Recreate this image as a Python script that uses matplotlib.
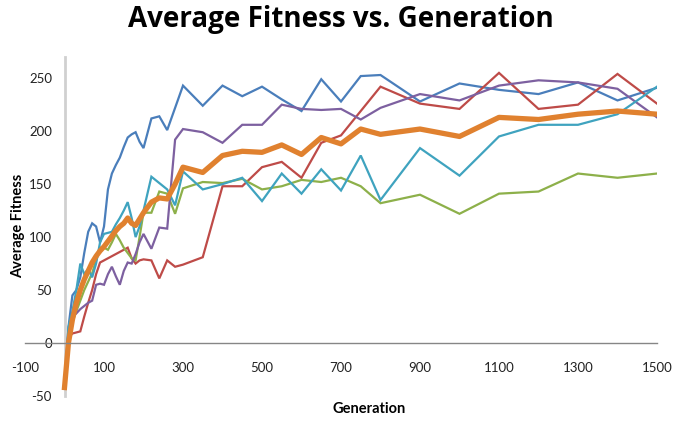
import matplotlib
matplotlib.use("Agg")
import matplotlib.pyplot as plt

plt.rcParams["axes.unicode_minus"] = False

generations = [0, 10, 20, 30, 40, 50, 60, 70, 80, 90, 100, 110, 120, 130, 140, 150,
               160, 170, 180, 190, 200, 220, 240, 260, 280, 300, 350, 400, 450, 500,
               550, 600, 650, 700, 750, 800, 900, 1000, 1100, 1200, 1300, 1400, 1500]

run_blue = [-43, 15, 45, 50, 62, 85, 105, 113, 110, 95, 110, 145, 160, 168, 175, 185,
            194, 197, 199, 190, 184, 212, 214, 201, 222, 243, 224, 243, 233, 242,
            230, 219, 249, 228, 252, 253, 228, 245, 239, 235, 246, 229, 241]
run_red = [-43, 5, 9, 10, 11, 25, 38, 50, 65, 76, 78, 80, 82, 84, 86, 88,
           90, 80, 75, 78, 79, 78, 61, 78, 72, 74, 81, 148, 148, 166,
           171, 156, 189, 196, 219, 242, 226, 221, 255, 221, 225, 254, 226]
run_green = [-43, 10, 20, 30, 40, 50, 58, 66, 78, 90, 90, 88, 95, 103, 97, 90,
             85, 80, 78, 100, 123, 123, 143, 141, 122, 146, 152, 151, 155, 145,
             148, 154, 152, 156, 148, 132, 140, 122, 141, 143, 160, 156, 160]
run_purple = [-43, 10, 25, 28, 32, 35, 38, 40, 55, 56, 55, 65, 72, 63, 55, 68,
              76, 75, 84, 95, 103, 89, 109, 108, 192, 202, 199, 189, 206, 206,
              225, 221, 220, 221, 211, 222, 235, 229, 243, 248, 246, 240, 213]
run_teal = [-43, 15, 30, 50, 75, 65, 70, 62, 75, 95, 103, 104, 105, 112, 118, 125,
            133, 118, 100, 110, 125, 157, 151, 145, 130, 162, 145, 150, 156, 134,
            160, 141, 164, 144, 177, 135, 184, 158, 195, 206, 206, 216, 242]
avg_fitness = [-42, 0, 22, 38, 50, 60, 68, 76, 82, 87, 91, 96, 101, 106, 110, 113,
               118, 113, 111, 117, 123, 133, 137, 136, 150, 166, 161, 177, 181, 180,
               187, 178, 194, 188, 202, 197, 202, 195, 213, 211, 216, 219, 216]

series = [
    (run_blue, "#4A7EBB"),
    (run_red, "#BE4B48"),
    (run_green, "#8DB04A"),
    (run_purple, "#7D60A0"),
    (run_teal, "#3FA3BF"),
]

x_ticks = [-100, 100, 300, 500, 700, 900, 1100, 1300, 1500]
y_ticks = [-50, 0, 50, 100, 150, 200, 250]

W, H = 673, 421
fig = plt.figure(figsize=(W / 100, H / 100), dpi=100)
ax = fig.add_axes([25 / W, 1 - 396 / H, (657 - 25) / W, (396 - 57) / H])

for vals, col in series:
    ax.plot(generations, vals, color=col, lw=1.6, solid_joinstyle="miter")
ax.plot(generations, avg_fitness, color="#E0812F", lw=3.8, solid_joinstyle="round")

ax.set_xlim(-100, 1500)
ax.set_ylim(-50, 270)
ax.set_xticks(x_ticks)
ax.set_yticks(y_ticks)

for s in ["top", "right"]:
    ax.spines[s].set_visible(False)
ax.spines["left"].set_position(("data", 0))
ax.spines["bottom"].set_position(("data", 0))
ax.spines["left"].set_color("#D0D0D0")
ax.spines["left"].set_linewidth(2.0)
ax.spines["bottom"].set_color("#868686")
ax.spines["bottom"].set_linewidth(1.0)
ax.spines["left"].set_zorder(0.5)

font = "Lato"
ax.tick_params(axis="x", length=0, pad=13.5, labelsize=9.5, colors="#222222")
ax.tick_params(axis="y", length=0, pad=9.0, labelsize=9.5, colors="#222222")
for lab in ax.get_xticklabels() + ax.get_yticklabels():
    lab.set_fontfamily(font)

fig.text(341 / W, 1 - 19 / H, "Average Fitness vs. Generation", ha="center", va="center",
         fontsize=20, fontweight="bold", family="Open Sans")
fig.text(18 / W, 1 - 226 / H, "Average Fitness", ha="center", va="center", rotation=90,
         fontsize=10.5, fontweight="bold", family=font)
fig.text(369 / W, 1 - 409 / H, "Generation", ha="center", va="center",
         fontsize=10.5, fontweight="bold", family=font)

fig.savefig("out.png", dpi=100)
